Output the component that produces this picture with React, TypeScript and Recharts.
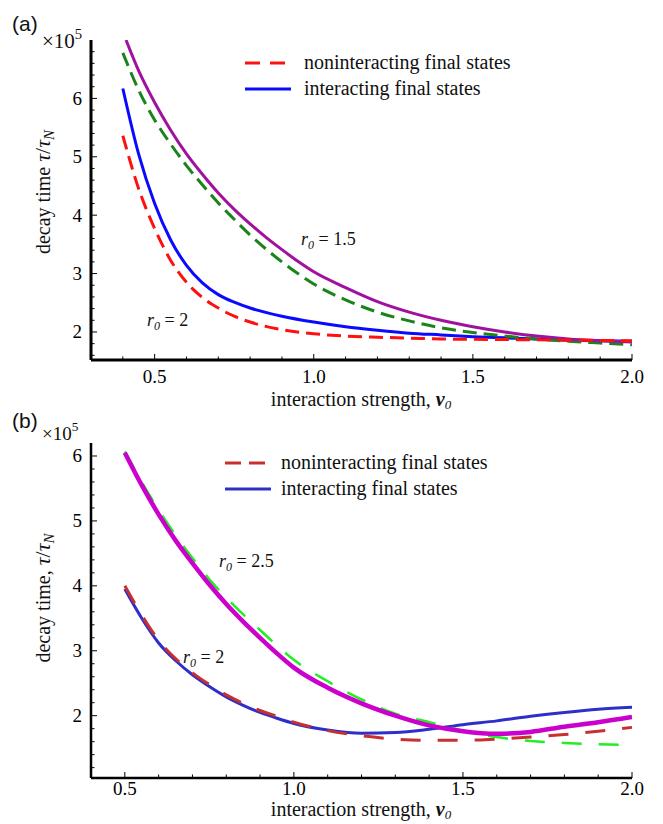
import { Legend, Line, LineChart, XAxis, YAxis } from "recharts";

const SERIF = '"Liberation Serif", "Times New Roman", serif';
const SANS = '"Liberation Sans", Arial, sans-serif';

// ---- panel (a) ----
const A_RED_X = [0.4, 0.45, 0.5, 0.55, 0.6, 0.65, 0.7, 0.75, 0.8, 0.9, 1.0, 1.1, 1.2, 1.3, 1.4, 1.5, 1.6, 1.7, 1.8, 1.9, 2.0];
const A_RED_Y = [5.36, 4.45, 3.77, 3.23, 2.85, 2.59, 2.41, 2.27, 2.17, 2.04, 1.97, 1.93, 1.91, 1.895, 1.88, 1.875, 1.87, 1.865, 1.86, 1.855, 1.85];
const A_BLUE_X = [0.4, 0.45, 0.5, 0.55, 0.6, 0.65, 0.7, 0.75, 0.8, 0.9, 1.0, 1.1, 1.2, 1.3, 1.4, 1.5, 1.6, 1.7, 1.8, 1.9, 2.0];
const A_BLUE_Y = [6.17, 5.04, 4.2, 3.58, 3.14, 2.84, 2.64, 2.51, 2.41, 2.27, 2.17, 2.09, 2.03, 1.98, 1.95, 1.92, 1.9, 1.88, 1.86, 1.85, 1.84];
const A_GREEN_X = [0.4, 0.45, 0.5, 0.55, 0.6, 0.65, 0.7, 0.75, 0.8, 0.85, 0.9, 0.95, 1.0, 1.1, 1.2, 1.3, 1.4, 1.5, 1.6, 1.7, 1.8, 1.9, 2.0];
const A_GREEN_Y = [6.78, 6.14, 5.63, 5.22, 4.85, 4.52, 4.21, 3.93, 3.66, 3.42, 3.2, 3.0, 2.82, 2.55, 2.34, 2.19, 2.07, 1.99, 1.93, 1.88, 1.84, 1.81, 1.78];
const A_MAGENTA_X = [0.41, 0.45, 0.5, 0.55, 0.6, 0.65, 0.7, 0.75, 0.8, 0.85, 0.9, 0.95, 1.0, 1.1, 1.2, 1.3, 1.4, 1.5, 1.6, 1.7, 1.8, 1.9, 2.0];
const A_MAGENTA_Y = [7.0, 6.47, 5.93, 5.46, 5.05, 4.7, 4.38, 4.1, 3.85, 3.62, 3.41, 3.21, 3.03, 2.76, 2.52, 2.34, 2.2, 2.09, 2.0, 1.93, 1.88, 1.85, 1.83];

const A_X_TICKS = [0.4, 0.5, 0.6, 0.7, 0.8, 0.9, 1.0, 1.1, 1.2, 1.3, 1.4, 1.5, 1.6, 1.7, 1.8, 1.9, 2.0];
const A_Y_TICKS = [1.6, 1.8, 2, 2.2, 2.4, 2.6, 2.8, 3, 3.2, 3.4, 3.6, 3.8, 4, 4.2, 4.4, 4.6, 4.8, 5, 5.2, 5.4, 5.6, 5.8, 6, 6.2, 6.4, 6.6, 6.8];

// ---- panel (b) ----
const B_X = [0.5, 0.55, 0.6, 0.65, 0.7, 0.75, 0.8, 0.85, 0.9, 0.95, 1.0, 1.1, 1.2, 1.3, 1.4, 1.5, 1.6, 1.7, 1.8, 1.9, 2.0];
const B_RED_Y = [4.0, 3.55, 3.16, 2.88, 2.66, 2.48, 2.32, 2.19, 2.08, 1.99, 1.9, 1.77, 1.69, 1.64, 1.62, 1.62, 1.64, 1.67, 1.71, 1.76, 1.82];
const B_BLUE_Y = [3.95, 3.5, 3.12, 2.85, 2.63, 2.45, 2.29, 2.16, 2.05, 1.96, 1.88, 1.78, 1.73, 1.74, 1.79, 1.86, 1.92, 1.99, 2.05, 2.1, 2.13];
const B_GREEN_Y = [6.07, 5.6, 5.17, 4.78, 4.43, 4.1, 3.82, 3.56, 3.32, 3.08, 2.86, 2.53, 2.25, 2.03, 1.9, 1.77, 1.67, 1.61, 1.58, 1.56, 1.55];
const B_MAGENTA_Y = [6.05, 5.55, 5.1, 4.7, 4.35, 4.02, 3.72, 3.45, 3.2, 2.96, 2.74, 2.43, 2.19, 2.0, 1.85, 1.76, 1.72, 1.75, 1.83, 1.9, 1.98];

const B_X_TICKS = [0.5, 0.6, 0.7, 0.8, 0.9, 1.0, 1.1, 1.2, 1.3, 1.4, 1.5, 1.6, 1.7, 1.8, 1.9, 2.0];
const B_Y_TICKS = [1.2, 1.4, 1.6, 1.8, 2, 2.2, 2.4, 2.6, 2.8, 3, 3.2, 3.4, 3.6, 3.8, 4, 4.2, 4.4, 4.6, 4.8, 5, 5.2, 5.4, 5.6, 5.8, 6];

const X_LABELS = [0.5, 1.0, 1.5, 2.0];
const Y_LABELS = [2, 3, 4, 5, 6];

const LEGEND_LABELS = ["noninteracting final states", "interacting final states"];

const pts = (xs: number[], ys: number[]) => xs.map((x, i) => ({ x, y: ys[i] }));
const isLabel = (list: number[], v: number) => list.some((l) => Math.abs(l - v) < 1e-6);

function xTick(labelOffset: number, fontSize: number) {
  return (props: any) => {
    const { x, y, payload } = props;
    const major = isLabel(X_LABELS, payload.value);
    return (
      <g>
        <line x1={x} x2={x} y1={y} y2={y - (major ? 6 : 3.5)} stroke="#000" strokeWidth={1} />
        {major && (
          <text x={x} y={y + labelOffset} textAnchor="middle" fontFamily={SERIF} fontSize={fontSize} fill="#000">
            {payload.value.toFixed(1)}
          </text>
        )}
      </g>
    );
  };
}

function yTick(fontSize: number) {
  return (props: any) => {
    const { x, y, payload } = props;
    const major = isLabel(Y_LABELS, payload.value);
    return (
      <g>
        <line x1={x} x2={x + (major ? 6 : 3.5)} y1={y} y2={y} stroke="#000" strokeWidth={1} />
        {major && (
          <text x={x - 9} y={y + 6.5} textAnchor="end" fontFamily={SERIF} fontSize={fontSize} fill="#000">
            {Math.round(payload.value)}
          </text>
        )}
      </g>
    );
  };
}

function LegendBox({ red, blue, dash, textX }: { red: string; blue: string; dash: string; textX: number }) {
  return (
    <svg width={300} height={52} style={{ display: "block" }}>
      <line x1={4} x2={44} y1={13} y2={13} stroke={red} strokeWidth={3} strokeDasharray={dash} />
      <line x1={4} x2={50} y1={39} y2={39} stroke={blue} strokeWidth={3} />
      <text x={textX} y={19} fontFamily={SERIF} fontSize={20} fill="#111">{LEGEND_LABELS[0]}</text>
      <text x={textX} y={45} fontFamily={SERIF} fontSize={20} fill="#111">{LEGEND_LABELS[1]}</text>
    </svg>
  );
}

function R0({ x, y, value }: { x: number; y: number; value: string }) {
  return (
    <text x={x} y={y} fontFamily={SERIF} fontSize={18} fill="#111">
      <tspan fontStyle="italic">r</tspan>
      <tspan fontStyle="italic" fontSize={12} dy={4}>0</tspan>
      <tspan dy={-4}>{` = ${value}`}</tspan>
    </text>
  );
}

function XTitle({ x, y }: { x: number; y: number }) {
  return (
    <text x={x} y={y} textAnchor="middle" fontFamily={SERIF} fontSize={20} fill="#111">
      <tspan>interaction strength, </tspan>
      <tspan fontStyle="italic" fontWeight="bold">v</tspan>
      <tspan fontStyle="italic" fontSize={13} dy={3}>0</tspan>
    </text>
  );
}

function YTitle({ x, y, comma }: { x: number; y: number; comma: boolean }) {
  return (
    <text x={x} y={y} textAnchor="middle" fontFamily={SERIF} fontSize={20} fill="#111" transform={`rotate(-90 ${x} ${y})`}>
      <tspan>{comma ? "decay time, " : "decay time "}</tspan>
      <tspan fontStyle="italic" fontSize={22}>τ</tspan>
      <tspan fontSize={22}>/</tspan>
      <tspan fontStyle="italic" fontSize={22}>τ</tspan>
      <tspan fontStyle="italic" fontSize={15} dy={4}>N</tspan>
    </text>
  );
}

function Power({ x, y, size }: { x: number; y: number; size: number }) {
  return (
    <text x={x} y={y} fontFamily={SERIF} fontSize={size} fill="#111">
      <tspan>×10</tspan>
      <tspan fontSize={size * 0.7} dy={-9}>5</tspan>
    </text>
  );
}

export default function App() {
  return (
    <div style={{ position: "absolute", left: 0, top: 0, width: 663, height: 824, background: "#fff" }}>
      <div style={{ position: "absolute", left: 0, top: 0 }}>
        <LineChart width={663} height={410} margin={{ top: 40, right: 31, bottom: 20, left: 31 }}>
          <XAxis
            dataKey="x"
            type="number"
            domain={[0.3, 2.0]}
            ticks={A_X_TICKS}
            interval={0}
            height={30}
            tickSize={0}
            tickMargin={0}
            tickLine={false}
            axisLine={{ stroke: "#000", strokeWidth: 3 }}
            tick={xTick(23, 19)}
            allowDataOverflow
          />
          <YAxis
            type="number"
            domain={[1.52, 7.0]}
            ticks={A_Y_TICKS}
            interval={0}
            width={60}
            tickSize={0}
            tickMargin={0}
            tickLine={false}
            axisLine={{ stroke: "#000", strokeWidth: 3 }}
            tick={yTick(19)}
            allowDataOverflow
          />
          <Legend
            layout="vertical"
            align="center"
            verticalAlign="middle"
            content={() => <LegendBox red="#ff1010" blue="#0a0aff" dash="15 10" textX={63} />}
            wrapperStyle={{ left: 241, top: 50, width: 300 }}
          />
          <Line data={pts(A_BLUE_X, A_BLUE_Y)} dataKey="y" type="monotone" stroke="#0a0aff" strokeWidth={3} dot={false} isAnimationActive={false} />
          <Line data={pts(A_GREEN_X, A_GREEN_Y)} dataKey="y" type="monotone" stroke="#1a841a" strokeWidth={3} strokeDasharray="14 7" dot={false} isAnimationActive={false} />
          <Line data={pts(A_MAGENTA_X, A_MAGENTA_Y)} dataKey="y" type="monotone" stroke="#a0129e" strokeWidth={3} dot={false} isAnimationActive={false} />
          <Line data={pts(A_RED_X, A_RED_Y)} dataKey="y" type="monotone" stroke="#ff1010" strokeWidth={3} strokeDasharray="14 7" dot={false} isAnimationActive={false} />
        </LineChart>
      </div>

      <div style={{ position: "absolute", left: 0, top: 410 }}>
        <LineChart width={663} height={414} margin={{ top: 33, right: 31, bottom: 16, left: 31 }}>
          <XAxis
            dataKey="x"
            type="number"
            domain={[0.4, 2.0]}
            ticks={B_X_TICKS}
            interval={0}
            height={30}
            tickSize={0}
            tickMargin={0}
            tickLine={false}
            axisLine={{ stroke: "#000", strokeWidth: 2.5 }}
            tick={xTick(17, 19)}
            allowDataOverflow
          />
          <YAxis
            type="number"
            domain={[1.04, 6.2]}
            ticks={B_Y_TICKS}
            interval={0}
            width={60}
            tickSize={0}
            tickMargin={0}
            tickLine={false}
            axisLine={{ stroke: "#000", strokeWidth: 2.5 }}
            tick={yTick(19)}
            allowDataOverflow
          />
          <Legend
            layout="vertical"
            align="center"
            verticalAlign="middle"
            content={() => <LegendBox red="#c83030" blue="#2f2fc8" dash="16 8" textX={60} />}
            wrapperStyle={{ left: 221, top: 40, width: 300 }}
          />
          <Line data={pts(B_X, B_BLUE_Y)} dataKey="y" type="monotone" stroke="#2f2fc8" strokeWidth={3} dot={false} isAnimationActive={false} />
          <Line data={pts(B_X, B_RED_Y)} dataKey="y" type="monotone" stroke="#c83030" strokeWidth={3} strokeDasharray="20 17" dot={false} isAnimationActive={false} />
          <Line data={pts(B_X, B_GREEN_Y)} dataKey="y" type="monotone" stroke="#22ee22" strokeWidth={2.5} strokeDasharray="20 17" dot={false} isAnimationActive={false} />
          <Line data={pts(B_X, B_MAGENTA_Y)} dataKey="y" type="monotone" stroke="#cc00cc" strokeWidth={4.5} dot={false} isAnimationActive={false} />
        </LineChart>
      </div>

      <svg width={663} height={824} style={{ position: "absolute", left: 0, top: 0, pointerEvents: "none" }}>
        <text x={12} y={31} fontFamily={SANS} fontSize={21} fill="#111">(a)</text>
        <text x={12} y={428} fontFamily={SANS} fontSize={21} fill="#111">(b)</text>
        <Power x={42} y={48} size={21} />
        <Power x={42} y={440} size={19} />
        <YTitle x={50} y={192} comma={false} />
        <YTitle x={50} y={598} comma={true} />
        <XTitle x={361} y={406} />
        <XTitle x={361} y={816} />
        <R0 x={301} y={245} value="1.5" />
        <R0 x={147} y={326} value="2" />
        <R0 x={219} y={567} value="2.5" />
        <R0 x={183} y={663} value="2" />
      </svg>
    </div>
  );
}
